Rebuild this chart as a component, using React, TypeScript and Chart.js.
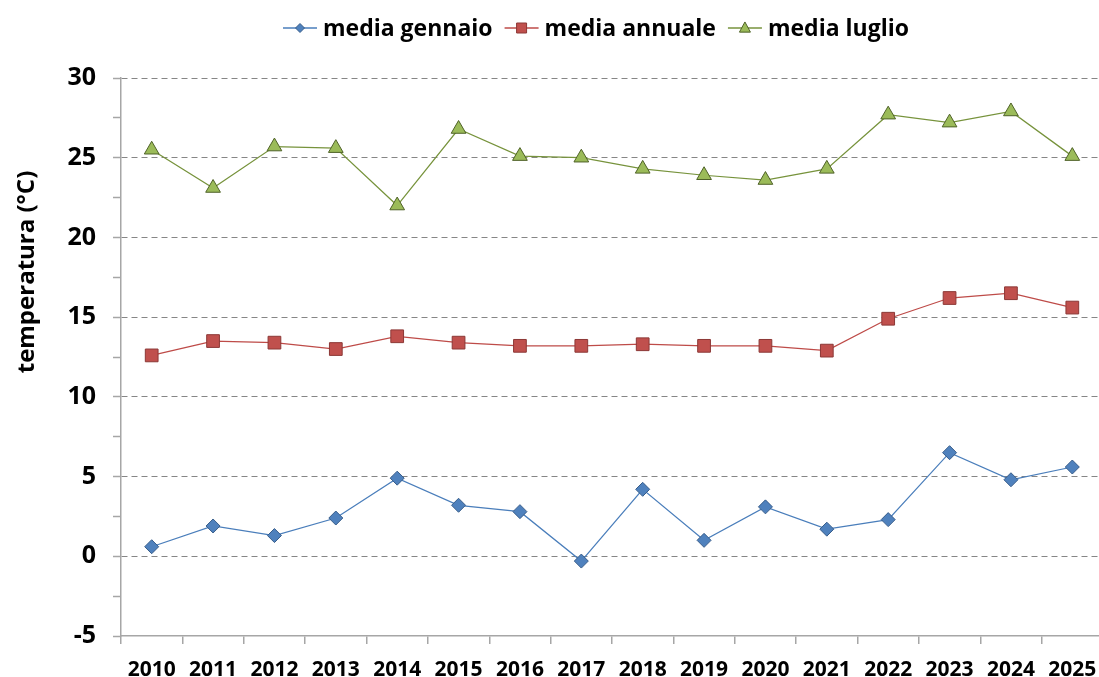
import React, { useEffect, useRef } from "react";
import { Chart, registerables } from "chart.js";

Chart.register(...registerables);

const years = ["2010", "2011", "2012", "2013", "2014", "2015", "2016", "2017", "2018", "2019", "2020", "2021", "2022", "2023", "2024", "2025"];
const mediaGennaio = [0.6, 1.9, 1.3, 2.4, 4.9, 3.2, 2.8, -0.3, 4.2, 1.0, 3.1, 1.7, 2.3, 6.5, 4.8, 5.6];
const mediaAnnuale = [12.6, 13.5, 13.4, 13.0, 13.8, 13.4, 13.2, 13.2, 13.3, 13.2, 13.2, 12.9, 14.9, 16.2, 16.5, 15.6];
const mediaLuglio = [25.5, 23.1, 25.7, 25.6, 22.0, 26.8, 25.1, 25.0, 24.3, 23.9, 23.6, 24.3, 27.7, 27.2, 27.9, 25.1];
const seriesLabels = ["media gennaio", "media annuale", "media luglio"];
const yTitle = "temperatura (°C)";
const yMin = -5;
const yMax = 30;

const FONT = "'Open Sans', sans-serif";
const AXIS = "#A6A6A6";
const GRID = "#868686";

type Mk = "diamond" | "square" | "triangle";

function drawMarker(ctx: CanvasRenderingContext2D, kind: Mk, x: number, y: number, s: number, fill: string, stroke: string) {
  ctx.beginPath();
  if (kind === "diamond") {
    ctx.moveTo(x, y - s);
    ctx.lineTo(x + s, y);
    ctx.lineTo(x, y + s);
    ctx.lineTo(x - s, y);
  } else if (kind === "square") {
    ctx.rect(x - s, y - s, 2 * s, 2 * s);
  } else {
    ctx.moveTo(x, y - s * 1.1);
    ctx.lineTo(x + s, y + s * 0.75);
    ctx.lineTo(x - s, y + s * 0.75);
  }
  ctx.closePath();
  ctx.fillStyle = fill;
  ctx.fill();
  ctx.lineWidth = 1;
  ctx.strokeStyle = stroke;
  ctx.stroke();
}

const legendPlugin = {
  id: "customLegend",
  afterDraw(chart: any) {
    const ctx: CanvasRenderingContext2D = chart.ctx;
    const kinds: Mk[] = ["diamond", "square", "triangle"];
    const sizes = [4.5, 5, 5.5];
    ctx.save();
    ctx.font = `bold 23px ${FONT}`;
    ctx.textBaseline = "middle";
    ctx.textAlign = "left";
    let x = 283;
    const y = 28;
    chart.data.datasets.forEach((ds: any, i: number) => {
      ctx.beginPath();
      ctx.moveTo(x, y);
      ctx.lineTo(x + 34, y);
      ctx.strokeStyle = ds.borderColor;
      ctx.lineWidth = 1.5;
      ctx.stroke();
      drawMarker(ctx, kinds[i], x + 17, y, sizes[i], ds.pointBackgroundColor, ds.pointBorderColor);
      ctx.fillStyle = "#000";
      ctx.fillText(ds.label, x + 40, y + 1);
      x += 40 + ctx.measureText(ds.label).width + 12;
    });
    ctx.restore();
  },
};

const yTitlePlugin = {
  id: "yTitle",
  afterDraw(chart: any) {
    const ctx: CanvasRenderingContext2D = chart.ctx;
    ctx.save();
    ctx.translate(27, 272);
    ctx.rotate(-Math.PI / 2);
    ctx.font = `bold 24px ${FONT}`;
    ctx.fillStyle = "#000";
    ctx.textAlign = "center";
    ctx.textBaseline = "middle";
    ctx.fillText(yTitle, 0, 0);
    ctx.restore();
  },
};

export default function App() {
  const ref = useRef<HTMLCanvasElement>(null);
  useEffect(() => {
    if (!ref.current) return;
    const chart = new Chart(ref.current, {
      type: "line",
      data: {
        labels: years,
        datasets: [
          {
            label: seriesLabels[0],
            data: mediaGennaio,
            borderColor: "#4A7EBB",
            borderWidth: 1.25,
            pointStyle: "rectRot",
            pointRadius: 7,
            pointBackgroundColor: "#4F81BD",
            pointBorderColor: "#385D8A",
            pointBorderWidth: 1,
            tension: 0,
          },
          {
            label: seriesLabels[1],
            data: mediaAnnuale,
            borderColor: "#BE4B48",
            borderWidth: 1.25,
            pointStyle: "rect",
            pointRadius: 9,
            pointBackgroundColor: "#C0504D",
            pointBorderColor: "#8C3836",
            pointBorderWidth: 1,
            tension: 0,
          },
          {
            label: seriesLabels[2],
            data: mediaLuglio,
            borderColor: "#77933C",
            borderWidth: 1.25,
            pointStyle: "triangle",
            pointRadius: 8.5,
            pointBackgroundColor: "#9BBB59",
            pointBorderColor: "#4F6228",
            pointBorderWidth: 1,
            tension: 0,
          },
        ],
      },
      options: {
        animation: false,
        responsive: false,
        devicePixelRatio: 1,
        layout: { padding: { top: 78, left: 0, right: 0, bottom: 0 } },
        plugins: { legend: { display: false }, tooltip: { enabled: false }, title: { display: false } },
        scales: {
          x: {
            type: "category",
            offset: true,
            grid: { offset: true, drawOnChartArea: false, tickLength: 8, tickColor: AXIS, color: AXIS, lineWidth: 1.5 },
            border: { color: AXIS, width: 1.5 },
            ticks: { color: "#000", font: { family: FONT, size: 21, weight: "bold" }, padding: 13, maxRotation: 0, autoSkip: false },
            afterFit: (s: any) => { s.height = 41; s.paddingLeft = 0; s.paddingRight = 0; },
          },
          y: {
            min: yMin,
            max: yMax,
            ticks: {
              stepSize: 2.5,
              autoSkip: false,
              color: "#000",
              font: { family: FONT, size: 25, weight: "bold" },
              padding: 17,
              callback: (v: any) => (Number(v) % 5 === 0 ? String(v) : ""),
            },
            grid: {
              color: (c: any) => (c.tick && c.tick.value % 5 === 0 && c.tick.value !== yMin ? GRID : "rgba(0,0,0,0)"),
              tickColor: AXIS,
              tickLength: 8,
              lineWidth: 1,
              tickWidth: 1.5,
            },
            border: { color: AXIS, width: 1.5, dash: [6, 4] },
            afterFit: (s: any) => { s.width = 121; },
          },
        },
      },
      plugins: [legendPlugin, yTitlePlugin],
    } as any);
    return () => chart.destroy();
  }, []);
  return (
    <div style={{ position: "fixed", left: 0, top: 0, width: 1099, height: 677, overflow: "hidden", background: "#fff" }}>
      <canvas ref={ref} width={1113} height={677} style={{ width: 1113, height: 677, display: "block" }} />
    </div>
  );
}
